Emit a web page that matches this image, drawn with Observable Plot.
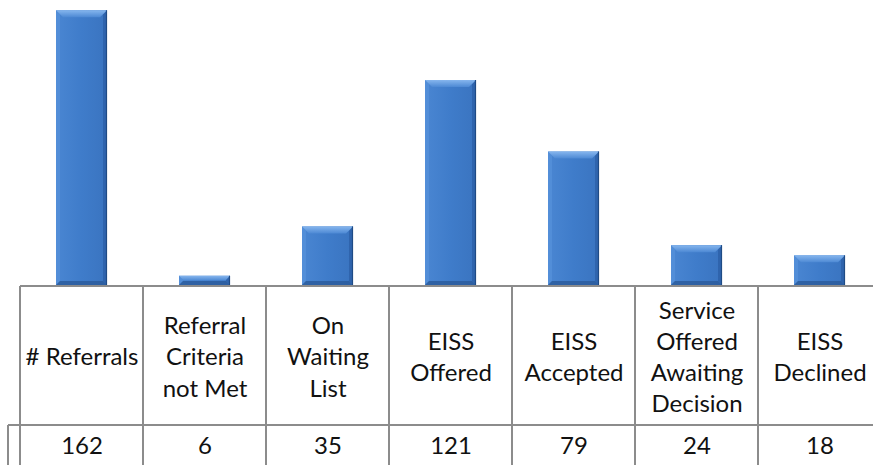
<!DOCTYPE html>
<html><head><meta charset="utf-8">
<script src="https://cdn.jsdelivr.net/npm/d3@7"></script>
<script src="https://cdn.jsdelivr.net/npm/@observablehq/plot@0.6"></script>
<style>
body{margin:0;background:#fff;}
#chart svg{display:block;}
</style>
</head><body><div id="chart"></div>
<script>
// ---- data ----
const categories = ["# Referrals", "Referral\nCriteria\nnot Met", "On\nWaiting\nList", "EISS\nOffered", "EISS\nAccepted", "Service\nOffered\nAwaiting\nDecision", "EISS\nDeclined"];
const values = [162, 6, 35, 121, 79, 24, 18];
const valueLabels = ["162", "6", "35", "121", "79", "24", "18"];

const data = categories.map((c, i) => ({category: c, value: values[i], label: valueLabels[i]}));

const W = 873, H = 465;
const tableTop = 286, rowSplit = 425;
const barInset = 36;
const lineColor = "#8c8c8c";

// gradients + shadow filter
const defs = () => {
  const g = d3.create("svg:defs");
  const body = g.append("linearGradient").attr("id", "barBody").attr("x1", 0).attr("x2", 1).attr("y1", 0).attr("y2", 0);
  [["0%", "#4a86d2"], ["50%", "#3f7cca"], ["100%", "#3a74c0"]].forEach(([o, c]) => body.append("stop").attr("offset", o).attr("stop-color", c));
  const top = g.append("linearGradient").attr("id", "bevelTop").attr("x1", 0).attr("x2", 0).attr("y1", 0).attr("y2", 1);
  [["0%", "#86b6ee"], ["100%", "#4d89d4"]].forEach(([o, c]) => top.append("stop").attr("offset", o).attr("stop-color", c));
  const f = g.append("filter").attr("id", "shadow").attr("x", "-20%").attr("y", "-5%").attr("width", "150%").attr("height", "120%");
  f.append("feDropShadow").attr("dx", 2).attr("dy", 1).attr("stdDeviation", 2).attr("flood-color", "#000").attr("flood-opacity", 0.22);
  return g.node();
};

// bevel overlay drawn from the plot's own scales
const bevel = (index, scales) => {
  const x = scales.x, y = scales.y;
  const bw = x.bandwidth ? x.bandwidth() : 123;
  const g = d3.create("svg:g");
  data.forEach(d => {
    const x0 = x(d.category) + barInset, x1 = x(d.category) + bw - barInset;
    const yt = y(d.value), yb = y(0) - 1;
    const k = Math.min(7, (yb - yt) / 2);
    const s = Math.min(4, (yb - yt) / 2);
    const poly = (pts, fill, op = 1) => g.append("polygon").attr("points", pts.map(p => p.join(",")).join(" ")).attr("fill", fill).attr("fill-opacity", op);
    poly([[x0, yt], [x0 + s, yt + s], [x0 + s, yb - s], [x0, yb]], "#5590da", 0.8);
    poly([[x1, yt], [x1 - s, yt + s], [x1 - s, yb - s], [x1, yb]], "#2c5fa6", 0.75);
    poly([[x0, yb], [x0 + s, yb - s], [x1 - s, yb - s], [x1, yb]], "#2c5c9c", 0.85);
    poly([[x0, yt], [x1, yt], [x1 - k, yt + k], [x0 + k, yt + k]], "url(#bevelTop)");
    g.append("line").attr("x1", x1 - 0.5).attr("x2", x1 - 0.5).attr("y1", yt).attr("y2", yb)
      .attr("stroke", "#1f4b85").attr("stroke-width", 1.2);
  });
  return g.node();
};

// data table grid drawn from the plot's own scales
const grid = (index, scales) => {
  const x = scales.x, y = scales.y;
  const bw = x.bandwidth ? x.bandwidth() : 123;
  const y0 = y(0);
  const g = d3.create("svg:g").attr("stroke", lineColor).attr("stroke-width", 2).attr("fill", "none");
  const left = x(categories[0]);
  const right = x(categories[categories.length - 1]) + bw;
  g.append("line").attr("x1", left).attr("x2", right).attr("y1", y0).attr("y2", y0);
  g.append("line").attr("x1", left - 12).attr("x2", right).attr("y1", rowSplit).attr("y2", rowSplit);
  categories.forEach(c => g.append("line").attr("x1", x(c)).attr("x2", x(c)).attr("y1", y0).attr("y2", H));
  g.append("line").attr("x1", left - 12).attr("x2", left - 12).attr("y1", rowSplit).attr("y2", H);
  return g.node();
};

const chart = Plot.plot({
  width: W,
  height: H,
  marginTop: 0,
  marginBottom: H - tableTop,
  marginLeft: 20,
  marginRight: 0,
  style: {background: "#fff", fontFamily: "Lato, 'Open Sans', sans-serif", overflow: "hidden"},
  x: {domain: categories, range: [20, 881], padding: 0, axis: null},
  y: {domain: [0, 168], range: [tableTop, 0], axis: null},
  marks: [
    defs,
    Plot.barY(data, {x: "category", y: "value", insetLeft: barInset, insetRight: barInset, insetBottom: 1, fill: "url(#barBody)", style: "filter:url(#shadow)"}),
    bevel,
    grid,
    Plot.text(data, {x: "category", text: "category", frameAnchor: "bottom", lineAnchor: "middle", dy: 69, fontSize: 24, lineHeight: 1.3, fill: "#111"}),
    Plot.text(data, {x: "category", text: "label", frameAnchor: "bottom", lineAnchor: "middle", dy: 160, fontSize: 24, fill: "#111"})
  ]
});
document.getElementById("chart").appendChild(chart);
</script>
</body></html>
